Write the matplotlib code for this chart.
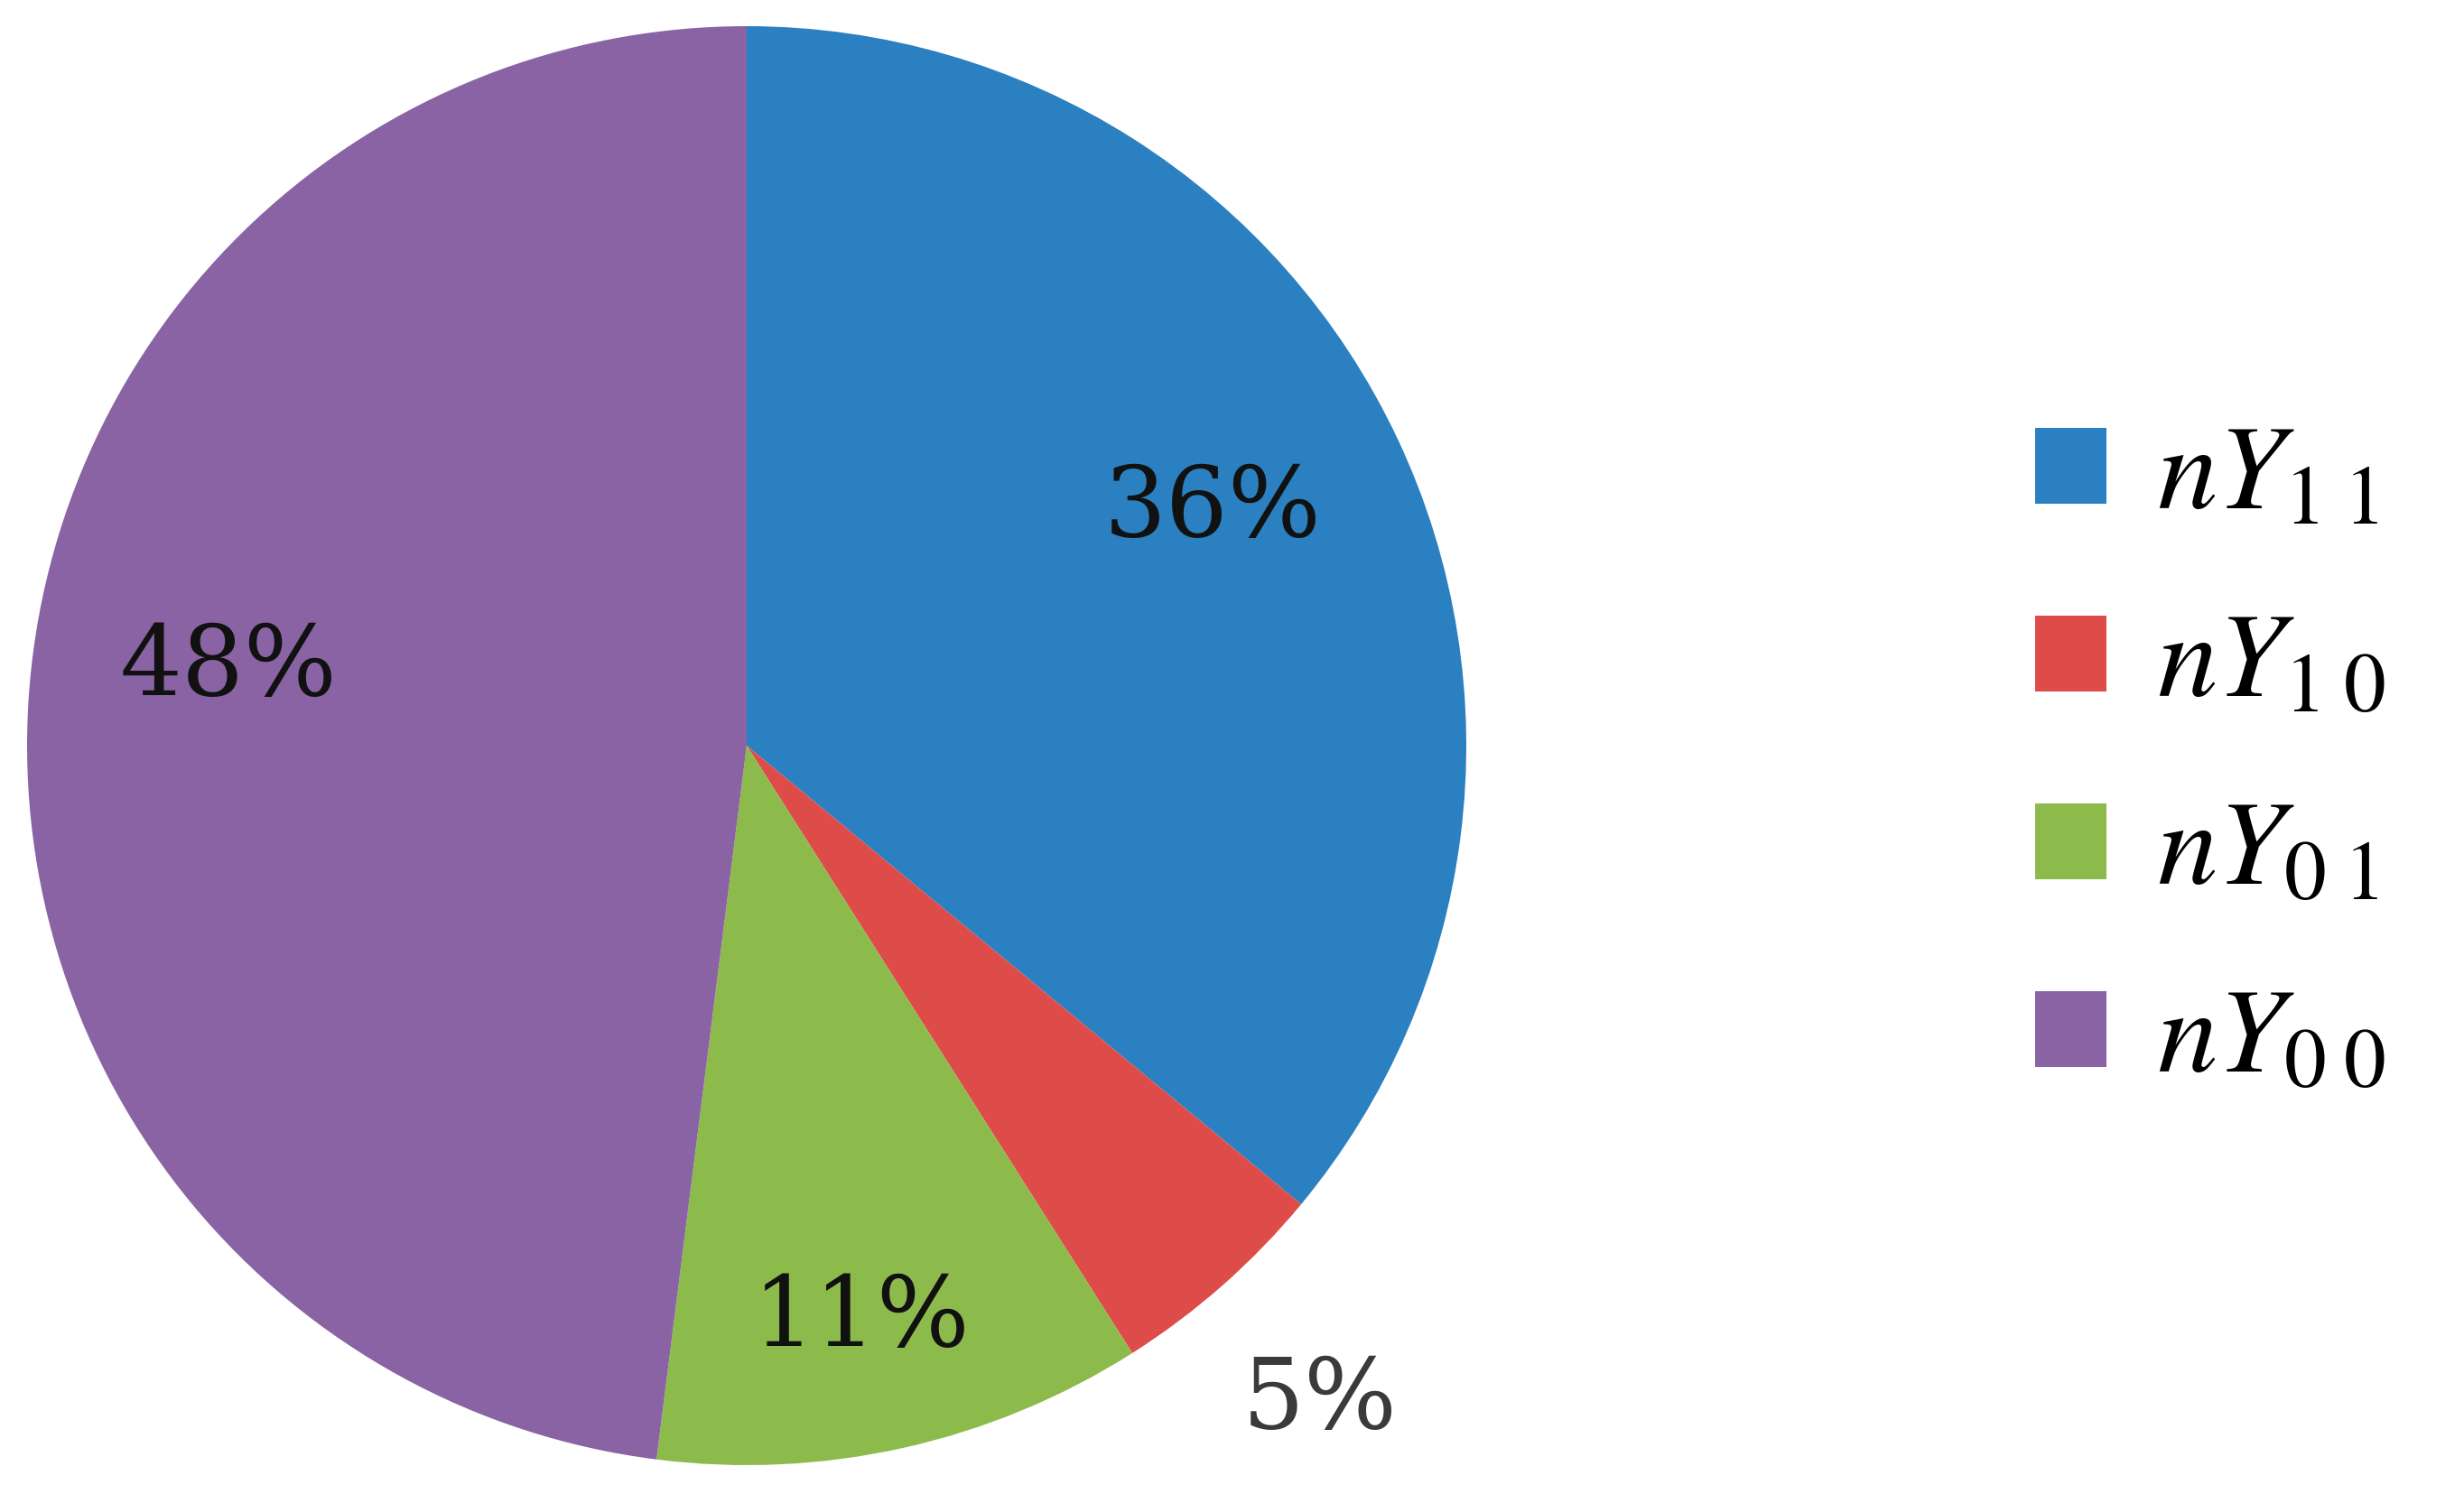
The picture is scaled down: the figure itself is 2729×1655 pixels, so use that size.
import matplotlib
matplotlib.use("Agg")
import matplotlib.pyplot as plt

plt.rcParams["mathtext.fontset"] = "stix"

labels = [r"$nY_{1\;1}$", r"$nY_{1\;0}$", r"$nY_{0\;1}$", r"$nY_{0\;0}$"]
shares = [36, 5, 11, 48]
colors = ["#2A80C0", "#DE4C4A", "#8CBB4C", "#8963A3"]
# label centres in pie units (radius = 1)
label_pos = [(0.648, 0.328), (0.797, -0.912), (0.159, -0.797), (-0.72, 0.108)]

W, H = 2729, 1655
fig = plt.figure(figsize=(W / 100, H / 100), dpi=100)
cx, cy, r = 827, 826, 797
ax = fig.add_axes([(cx - r) / W, (H - cy - r) / H, 2 * r / W, 2 * r / H])

wedges, texts = ax.pie(shares, colors=colors, startangle=90, counterclock=False,
                       wedgeprops=dict(linewidth=0))
ax.set_xlim(-1, 1)
ax.set_ylim(-1, 1)
ax.set_aspect("equal")

for v, (x, y) in zip(shares, label_pos):
    col = "#3a3a3a" if x ** 2 + y ** 2 > 1 else "#111111"
    ax.text(x, y, f"{v}%", ha="center", va="center",
            fontsize=78, family="DejaVu Serif", color=col)

fig.legend(wedges, labels, loc="center left",
           bbox_to_anchor=(2254 / W, 1 - 838 / H), frameon=False,
           fontsize=96, handlelength=0.59, handleheight=0.59,
           handletextpad=0.42, labelspacing=0.585, borderpad=0, borderaxespad=0)

fig.savefig("out.png", dpi=100)
